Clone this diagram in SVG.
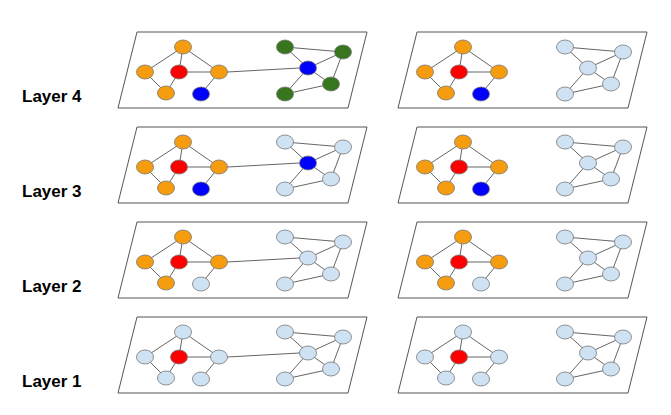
<svg xmlns="http://www.w3.org/2000/svg" width="671" height="415" viewBox="0 0 671 415">
<style>
.p{fill:#fff;stroke:#555;stroke-width:1}
.e{stroke:#666;stroke-width:1;fill:none}
ellipse{stroke:#777;stroke-width:0.8}
.o{fill:#f59d0e}.r{fill:#ff0000}.b{fill:#0000ff}.g{fill:#38761d}.l{fill:#cfe2f3}
.t{font-family:"Liberation Sans",Arial,sans-serif;font-weight:bold;font-size:17px;fill:#000}
</style>
<rect width="671" height="415" fill="#fff"/>
<defs>
<path id="pg" class="p" d="M137,32H367L348,108H118Z"/>
<g id="le" class="e"><path d="M183,47L145,72M183,47L179,72M183,47L219,72M145,72L166,93M179,72L166,93M179,72L219,72M219,72L201,94"/></g>
<g id="re" class="e"><path d="M285,47L343,52M285,47L308,68M308,68L343,52M343,52L331,84M308,68L331,84M308,68L285,94M285,94L331,84"/></g>
</defs>
<text class="t" x="22" y="102">Layer 4</text>
<text class="t" x="22" y="197">Layer 3</text>
<text class="t" x="22" y="292">Layer 2</text>
<text class="t" x="22" y="387">Layer 1</text>
<!-- Layer 4 -->
<g id="L4left"><use href="#pg"/><use href="#le"/><use href="#re"/>
<ellipse class="o" cx="183" cy="47" rx="8.5" ry="7"/><ellipse class="o" cx="145" cy="72" rx="8.5" ry="7"/><ellipse class="r" cx="179" cy="72" rx="8.5" ry="7"/><ellipse class="o" cx="219" cy="72" rx="8.5" ry="7"/><ellipse class="o" cx="166" cy="93" rx="8.5" ry="7"/><ellipse class="b" cx="201" cy="94" rx="8.5" ry="7"/>
<ellipse class="g" cx="285" cy="47" rx="8.5" ry="7"/><ellipse class="g" cx="343" cy="52" rx="8.5" ry="7"/><ellipse class="b" cx="308" cy="68" rx="8.5" ry="7"/><ellipse class="g" cx="331" cy="84" rx="8.5" ry="7"/><ellipse class="g" cx="285" cy="94" rx="8.5" ry="7"/></g>
<g id="L4right" transform="translate(280,0)"><use href="#pg"/><use href="#le"/><use href="#re"/>
<ellipse class="o" cx="183" cy="47" rx="8.5" ry="7"/><ellipse class="o" cx="145" cy="72" rx="8.5" ry="7"/><ellipse class="r" cx="179" cy="72" rx="8.5" ry="7"/><ellipse class="o" cx="219" cy="72" rx="8.5" ry="7"/><ellipse class="o" cx="166" cy="93" rx="8.5" ry="7"/><ellipse class="b" cx="201" cy="94" rx="8.5" ry="7"/>
<ellipse class="l" cx="285" cy="47" rx="8.5" ry="7"/><ellipse class="l" cx="343" cy="52" rx="8.5" ry="7"/><ellipse class="l" cx="308" cy="68" rx="8.5" ry="7"/><ellipse class="l" cx="331" cy="84" rx="8.5" ry="7"/><ellipse class="l" cx="285" cy="94" rx="8.5" ry="7"/></g>
<!-- Layer 3 -->
<g id="L3left" transform="translate(0,95)"><use href="#pg"/><use href="#le"/><use href="#re"/>
<ellipse class="o" cx="183" cy="47" rx="8.5" ry="7"/><ellipse class="o" cx="145" cy="72" rx="8.5" ry="7"/><ellipse class="r" cx="179" cy="72" rx="8.5" ry="7"/><ellipse class="o" cx="219" cy="72" rx="8.5" ry="7"/><ellipse class="o" cx="166" cy="93" rx="8.5" ry="7"/><ellipse class="b" cx="201" cy="94" rx="8.5" ry="7"/>
<ellipse class="l" cx="285" cy="47" rx="8.5" ry="7"/><ellipse class="l" cx="343" cy="52" rx="8.5" ry="7"/><ellipse class="b" cx="308" cy="68" rx="8.5" ry="7"/><ellipse class="l" cx="331" cy="84" rx="8.5" ry="7"/><ellipse class="l" cx="285" cy="94" rx="8.5" ry="7"/></g>
<g id="L3right" transform="translate(280,95)"><use href="#pg"/><use href="#le"/><use href="#re"/>
<ellipse class="o" cx="183" cy="47" rx="8.5" ry="7"/><ellipse class="o" cx="145" cy="72" rx="8.5" ry="7"/><ellipse class="r" cx="179" cy="72" rx="8.5" ry="7"/><ellipse class="o" cx="219" cy="72" rx="8.5" ry="7"/><ellipse class="o" cx="166" cy="93" rx="8.5" ry="7"/><ellipse class="b" cx="201" cy="94" rx="8.5" ry="7"/>
<ellipse class="l" cx="285" cy="47" rx="8.5" ry="7"/><ellipse class="l" cx="343" cy="52" rx="8.5" ry="7"/><ellipse class="l" cx="308" cy="68" rx="8.5" ry="7"/><ellipse class="l" cx="331" cy="84" rx="8.5" ry="7"/><ellipse class="l" cx="285" cy="94" rx="8.5" ry="7"/></g>
<!-- Layer 2 -->
<g id="L2left" transform="translate(0,190)"><use href="#pg"/><use href="#le"/><use href="#re"/>
<ellipse class="o" cx="183" cy="47" rx="8.5" ry="7"/><ellipse class="o" cx="145" cy="72" rx="8.5" ry="7"/><ellipse class="r" cx="179" cy="72" rx="8.5" ry="7"/><ellipse class="o" cx="219" cy="72" rx="8.5" ry="7"/><ellipse class="o" cx="166" cy="93" rx="8.5" ry="7"/><ellipse class="l" cx="201" cy="94" rx="8.5" ry="7"/>
<ellipse class="l" cx="285" cy="47" rx="8.5" ry="7"/><ellipse class="l" cx="343" cy="52" rx="8.5" ry="7"/><ellipse class="l" cx="308" cy="68" rx="8.5" ry="7"/><ellipse class="l" cx="331" cy="84" rx="8.5" ry="7"/><ellipse class="l" cx="285" cy="94" rx="8.5" ry="7"/></g>
<g id="L2right" transform="translate(280,190)"><use href="#pg"/><use href="#le"/><use href="#re"/>
<ellipse class="o" cx="183" cy="47" rx="8.5" ry="7"/><ellipse class="o" cx="145" cy="72" rx="8.5" ry="7"/><ellipse class="r" cx="179" cy="72" rx="8.5" ry="7"/><ellipse class="o" cx="219" cy="72" rx="8.5" ry="7"/><ellipse class="o" cx="166" cy="93" rx="8.5" ry="7"/><ellipse class="l" cx="201" cy="94" rx="8.5" ry="7"/>
<ellipse class="l" cx="285" cy="47" rx="8.5" ry="7"/><ellipse class="l" cx="343" cy="52" rx="8.5" ry="7"/><ellipse class="l" cx="308" cy="68" rx="8.5" ry="7"/><ellipse class="l" cx="331" cy="84" rx="8.5" ry="7"/><ellipse class="l" cx="285" cy="94" rx="8.5" ry="7"/></g>
<!-- Layer 1 -->
<g id="L1left" transform="translate(0,285)"><use href="#pg"/><use href="#le"/><use href="#re"/>
<ellipse class="l" cx="183" cy="47" rx="8.5" ry="7"/><ellipse class="l" cx="145" cy="72" rx="8.5" ry="7"/><ellipse class="r" cx="179" cy="72" rx="8.5" ry="7"/><ellipse class="l" cx="219" cy="72" rx="8.5" ry="7"/><ellipse class="l" cx="166" cy="93" rx="8.5" ry="7"/><ellipse class="l" cx="201" cy="94" rx="8.5" ry="7"/>
<ellipse class="l" cx="285" cy="47" rx="8.5" ry="7"/><ellipse class="l" cx="343" cy="52" rx="8.5" ry="7"/><ellipse class="l" cx="308" cy="68" rx="8.5" ry="7"/><ellipse class="l" cx="331" cy="84" rx="8.5" ry="7"/><ellipse class="l" cx="285" cy="94" rx="8.5" ry="7"/></g>
<g id="L1right" transform="translate(280,285)"><use href="#pg"/><use href="#le"/><use href="#re"/>
<ellipse class="l" cx="183" cy="47" rx="8.5" ry="7"/><ellipse class="l" cx="145" cy="72" rx="8.5" ry="7"/><ellipse class="r" cx="179" cy="72" rx="8.5" ry="7"/><ellipse class="l" cx="219" cy="72" rx="8.5" ry="7"/><ellipse class="l" cx="166" cy="93" rx="8.5" ry="7"/><ellipse class="l" cx="201" cy="94" rx="8.5" ry="7"/>
<ellipse class="l" cx="285" cy="47" rx="8.5" ry="7"/><ellipse class="l" cx="343" cy="52" rx="8.5" ry="7"/><ellipse class="l" cx="308" cy="68" rx="8.5" ry="7"/><ellipse class="l" cx="331" cy="84" rx="8.5" ry="7"/><ellipse class="l" cx="285" cy="94" rx="8.5" ry="7"/></g>
<g id="connectors">
<path class="e" d="M227.5,72L299.5,68M227.5,167L299.5,163M227.5,262L299.5,258M227.5,357L299.5,353"/>
</g>
</svg>
